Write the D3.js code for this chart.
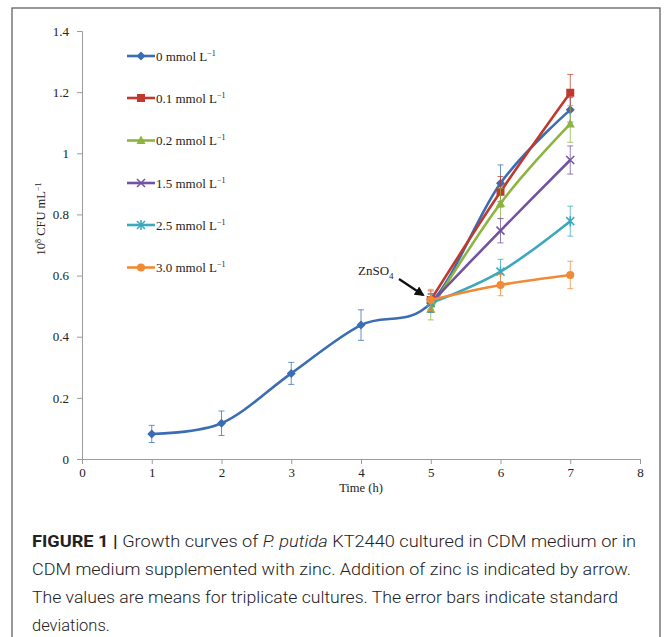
<!DOCTYPE html>
<html><head><meta charset="utf-8">
<script src="https://cdn.jsdelivr.net/npm/d3@7"></script>
<style>body{margin:0;background:#fff}svg{display:block}</style>
</head><body>
<svg id="chart" width="667" height="637"></svg>
<script>
// ---- data ----
const timesAll = [1, 2, 3, 4, 5, 6, 7];
const timesZn = [5, 6, 7];
const seriesNames = ["0", "0.1", "0.2", "1.5", "2.5", "3.0"];
const val0 = [0.082, 0.117, 0.28, 0.438, 0.51, 0.902, 1.142];
const err0 = [0.028, 0.04, 0.036, 0.05, 0.03, 0.06, 0.04];
const val01 = [0.52, 0.874, 1.198];
const err01 = [0.03, 0.05, 0.06];
const val02 = [0.49, 0.836, 1.096];
const err02 = [0.035, 0.05, 0.06];
const val15 = [0.51, 0.747, 0.978];
const err15 = [0.03, 0.04, 0.046];
const val25 = [0.51, 0.613, 0.778];
const err25 = [0.03, 0.04, 0.049];
const val30 = [0.52, 0.569, 0.602];
const err30 = [0.035, 0.035, 0.045];
const xTicks = [0, 1, 2, 3, 4, 5, 6, 7, 8];
const yTicks = [0, 0.2, 0.4, 0.6, 0.8, 1, 1.2, 1.4];
const colors = ["#3a6db3", "#c0392f", "#8db43f", "#7352a0", "#3ba8bd", "#f08a36"];
const markers = ["diamond", "square", "triangle", "x", "star", "circle"];
const captionLines = [
  [["FIGURE 1 | ", "b"], ["Growth curves of ", ""], ["P. putida", "i"], [" KT2440 cultured in CDM medium or in", ""]],
  [["CDM medium supplemented with zinc. Addition of zinc is indicated by arrow.", ""]],
  [["The values are means for triplicate cultures. The error bars indicate standard", ""]],
  [["deviations.", ""]]
];

const svg = d3.select("#chart");
// border
svg.append("rect").attr("x", 12).attr("y", 8).attr("width", 648).attr("height", 640)
  .attr("fill", "none").attr("stroke", "#555").attr("stroke-width", 1.2);

const x = d3.scaleLinear().domain([0, 8]).range([82, 640]);
const y = d3.scaleLinear().domain([0, 1.4]).range([459, 31]);
const serif = "'Liberation Serif','Times New Roman',serif";

const xAxis = svg.append("g").attr("transform", `translate(0,${y(0)})`)
  .call(d3.axisBottom(x).tickValues(xTicks).tickFormat(d3.format("d")).tickSize(5).tickPadding(4));
const yAxis = svg.append("g").attr("transform", `translate(${x(0)},0)`)
  .call(d3.axisLeft(y).tickValues(yTicks).tickFormat(d => d === 0 || d === 1 ? String(d) : d3.format(".1f")(d)).tickSize(5).tickPadding(8));
[xAxis, yAxis].forEach(g => {
  g.selectAll("path,line").attr("stroke", "#9a9a9a").attr("stroke-width", 1);
  g.selectAll("text").attr("font-family", serif).attr("font-size", 13).attr("fill", "#222");
});

// axis titles
svg.append("text").attr("x", 361).attr("y", 492).attr("text-anchor", "middle")
  .attr("font-family", serif).attr("font-size", 12.5).attr("fill", "#222").text("Time (h)");
const yt = svg.append("text").attr("transform", "translate(45,219) rotate(-90)").attr("text-anchor", "middle")
  .attr("font-family", serif).attr("font-size", 12.5).attr("fill", "#222");
yt.append("tspan").text("10");
yt.append("tspan").attr("dy", -4).attr("font-size", 8).text("8");
yt.append("tspan").attr("dy", 4).text(" CFU mL");
yt.append("tspan").attr("dy", -4).attr("font-size", 8).text("−1");

const series = [
  {t: timesAll, v: val0, e: err0},
  {t: timesZn, v: val01, e: err01},
  {t: timesZn, v: val02, e: err02},
  {t: timesZn, v: val15, e: err15},
  {t: timesZn, v: val25, e: err25},
  {t: timesZn, v: val30, e: err30}
];

function drawMarker(g, type, cx, cy, color) {
  if (type === "diamond") {
    g.append("path").attr("d", `M${cx},${cy-4.5}L${cx+4.5},${cy}L${cx},${cy+4.5}L${cx-4.5},${cy}Z`).attr("fill", color);
  } else if (type === "square") {
    g.append("rect").attr("x", cx-4).attr("y", cy-4).attr("width", 8).attr("height", 8).attr("fill", color);
  } else if (type === "triangle") {
    g.append("path").attr("d", `M${cx},${cy-5}L${cx+4.5},${cy+3.5}L${cx-4.5},${cy+3.5}Z`).attr("fill", color);
  } else if (type === "x") {
    g.append("path").attr("d", `M${cx-4},${cy-4}L${cx+4},${cy+4}M${cx-4},${cy+4}L${cx+4},${cy-4}`).attr("stroke", color).attr("stroke-width", 1.5);
  } else if (type === "star") {
    g.append("path").attr("d", `M${cx-4},${cy-4}L${cx+4},${cy+4}M${cx-4},${cy+4}L${cx+4},${cy-4}M${cx},${cy-5}L${cx},${cy+5}`).attr("stroke", color).attr("stroke-width", 1.5);
  } else {
    g.append("circle").attr("cx", cx).attr("cy", cy).attr("r", 4).attr("fill", color);
  }
}

const line = d3.line().x(d => x(d[0])).y(d => y(d[1])).curve(d3.curveCatmullRom.alpha(0));

series.forEach((s, i) => {
  const g = svg.append("g");
  const pts = s.t.map((t, k) => [t, s.v[k], s.e[k]]);
  // error bars
  pts.forEach(p => {
    const px = x(p[0]), y1 = y(p[1] + p[2]), y2 = y(p[1] - p[2]);
    g.append("path").attr("d", `M${px},${y1}L${px},${y2}M${px-3},${y1}L${px+3},${y1}M${px-3},${y2}L${px+3},${y2}`)
      .attr("stroke", colors[i]).attr("stroke-opacity", 0.75).attr("stroke-width", 1).attr("fill", "none");
  });
  g.append("path").datum(pts).attr("d", line).attr("fill", "none")
    .attr("stroke", colors[i]).attr("stroke-width", 2.6);
  pts.forEach(p => drawMarker(g, markers[i], x(p[0]), y(p[1]), colors[i]));
});

// legend
const legendY = [56, 98, 140.5, 183, 225, 267.5];
seriesNames.forEach((n, i) => {
  const g = svg.append("g");
  const ly = legendY[i];
  g.append("line").attr("x1", 127).attr("x2", 155).attr("y1", ly).attr("y2", ly)
    .attr("stroke", colors[i]).attr("stroke-width", 2.6);
  drawMarker(g, markers[i], 141, ly, colors[i]);
  const t = g.append("text").attr("x", 156).attr("y", ly + 4.5).attr("font-family", serif)
    .attr("font-size", 13).attr("fill", "#222");
  t.append("tspan").text(n + " mmol L");
  t.append("tspan").attr("dy", -5).attr("font-size", 8).text("−1");
});

// annotation
const ann = svg.append("text").attr("x", 358).attr("y", 275).attr("font-family", serif)
  .attr("font-size", 13).attr("fill", "#222");
ann.append("tspan").text("ZnSO");
ann.append("tspan").attr("dy", 4).attr("font-size", 9).text("4");
svg.append("defs").append("marker").attr("id", "ah").attr("viewBox", "0 0 10 10")
  .attr("refX", 8).attr("refY", 5).attr("markerWidth", 4.5).attr("markerHeight", 4.5).attr("orient", "auto")
  .append("path").attr("d", "M0,0L10,5L0,10Z").attr("fill", "#111");
svg.append("line").attr("x1", 399).attr("y1", 279).attr("x2", 423).attr("y2", 295)
  .attr("stroke", "#111").attr("stroke-width", 2.2).attr("marker-end", "url(#ah)");

// caption
const capY = [547, 575, 603, 631];
const capEnd = [636, 631, 618, null];
captionLines.forEach((parts, i) => {
  const t = svg.append("text").attr("x", 32).attr("y", capY[i])
    .attr("font-family", "Roboto, 'Liberation Sans', sans-serif").attr("font-size", 16.5)
    .attr("font-weight", 300).attr("fill", "#222");
  if (capEnd[i]) t.attr("textLength", capEnd[i] - 32).attr("lengthAdjust", "spacingAndGlyphs");
  parts.forEach(p => {
    const s = t.append("tspan").text(p[0]);
    if (p[1] === "b") s.attr("font-weight", 700);
    if (p[1] === "i") s.attr("font-style", "italic");
  });
});
</script>
</body></html>
